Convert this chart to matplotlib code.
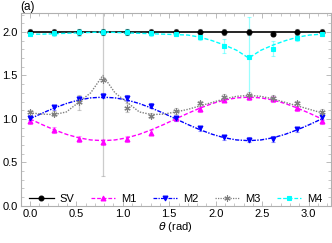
import numpy as np
import matplotlib
matplotlib.use('Agg')
import matplotlib.pyplot as plt
from matplotlib.ticker import MultipleLocator

# measured points at theta = k*pi/12
theta = np.linspace(0, np.pi, 13)
sv = [2.0, 2.0, 2.0, 2.0, 2.0, 2.0, 2.0, 2.0, 2.0, 2.0, 1.98, 2.0, 2.0]
sv_err = [0.03] * 13
m1 = [0.977, 0.873, 0.77, 0.735, 0.77, 0.84, 1.008, 1.11, 1.22, 1.25, 1.23, 1.12, 0.974]
m1_err = [0.03] * 13
m2 = [1.015, 1.135, 1.23, 1.265, 1.24, 1.15, 1.008, 0.89, 0.79, 0.76, 0.77, 0.88, 1.02]
m2_err = [0.03] * 13
m3 = [1.077, 1.058, 1.19, 1.45, 1.13, 1.035, 1.09, 1.18, 1.257, 1.277, 1.242, 1.18, 1.085]
m3_err = [0.03, 0.03, 0.09, 1.11, 0.05, 0.03, 0.03, 0.03, 0.03, 0.03, 0.03, 0.03, 0.03]
m4 = [1.98, 1.985, 1.995, 2.0, 2.0, 1.985, 1.98, 1.94, 1.84, 1.71, 1.81, 1.93, 1.98]
m4_err = [0.03, 0.03, 0.04, 0.03, 0.03, 0.03, 0.03, 0.03, 0.08, 0.46, 0.09, 0.03, 0.03]

# theory curves at theta = j*pi/24
theta_c = np.linspace(0, np.pi, 25)
sv_c = [2.0] * 25
m1_c = [1.0, 0.935, 0.875, 0.823, 0.783, 0.758, 0.75, 0.758, 0.783, 0.823, 0.875, 0.935,
        1.0, 1.065, 1.125, 1.177, 1.217, 1.242, 1.25, 1.242, 1.217, 1.177, 1.125, 1.065, 1.0]
m2_c = [1.0, 1.065, 1.125, 1.177, 1.217, 1.242, 1.25, 1.242, 1.217, 1.177, 1.125, 1.065,
        1.0, 0.935, 0.875, 0.823, 0.783, 0.758, 0.75, 0.758, 0.783, 0.823, 0.875, 0.935, 1.0]
m3_c = [1.07, 1.055, 1.05, 1.08, 1.19, 1.3, 1.5, 1.3, 1.19, 1.08, 1.05, 1.055,
        1.08, 1.11, 1.15, 1.19, 1.23, 1.26, 1.27, 1.26, 1.23, 1.19, 1.15, 1.11, 1.07]
m4_c = [1.975, 1.975, 1.98, 1.985, 1.99, 1.995, 2.0, 1.995, 1.99, 1.985, 1.98, 1.975,
        1.97, 1.965, 1.94, 1.9, 1.85, 1.79, 1.70, 1.79, 1.85, 1.9, 1.94, 1.965, 1.975]

series = [
    ("SV", sv, sv_err, sv_c, "black", "o", "-"),
    ("M1", m1, m1_err, m1_c, "#ff00ff", "^", (0, (3, 1.5))),
    ("M2", m2, m2_err, m2_c, "#0000ff", "v", (0, (3, 1, 1, 1))),
    ("M3", m3, m3_err, m3_c, "#808080", (6, 2, 0), (0, (1, 1))),
    ("M4", m4, m4_err, m4_c, "#00ffff", "s", (0, (3, 1.5))),
]

plt.rcParams['font.family'] = 'Liberation Sans'
fig = plt.figure(figsize=(3.32, 2.43), dpi=100)
ax = fig.add_axes([0.062, 0.153, 0.935, 0.794])

handles = []
for name, y, e, yc, col, mk, ls in series:
    size = 3.5 if name != "M3" else 4.5
    ax.errorbar(theta, y, yerr=e, fmt='none', ecolor=col, alpha=0.4,
                elinewidth=0.9, capsize=1.2, capthick=0.8, zorder=2)
    ax.plot(theta_c, yc, color=col, ls=ls, lw=1.0 if name != "SV" else 1.2, zorder=3)
    ax.plot(theta, y, ls='none', marker=mk, color=col, ms=size, mew=0.8, zorder=4)
    h, = ax.plot([], [], color=col, ls=ls, lw=0.9, marker=mk, ms=size, mew=0.8)
    handles.append(h)

ax.set_xlim(-0.1, np.pi + 0.1)
ax.set_ylim(0, 2.22)
ax.xaxis.set_major_locator(MultipleLocator(0.5))
ax.xaxis.set_minor_locator(MultipleLocator(0.1))
ax.yaxis.set_major_locator(MultipleLocator(0.5))
ax.yaxis.set_minor_locator(MultipleLocator(0.1))
ax.xaxis.set_major_formatter(plt.FuncFormatter(lambda v, p: f"{v:.1f}"))
ax.yaxis.set_major_formatter(plt.FuncFormatter(lambda v, p: f"{v:.1f}"))
ax.tick_params(which='both', direction='in', top=True, right=True, color='#b0b0b0',
               labelsize=8, pad=2)
ax.tick_params(which='major', length=3.5, width=0.6)
ax.tick_params(which='minor', length=2, width=0.5)
for s in ax.spines.values():
    s.set_color('#b0b0b0')
    s.set_linewidth(0.8)

ax.set_xlabel(r"$\theta$ (rad)", fontsize=8, labelpad=1)
fig.text(0.06, 0.995, "(a)", fontsize=8.5, va='top', ha='left')

ax.legend(handles, [s[0] for s in series], loc='lower center', ncol=5, frameon=False,
          fontsize=8, handlelength=2.2, columnspacing=1.45, handletextpad=0.55,
          borderaxespad=0.1, bbox_to_anchor=(0.5, -0.02))

fig.savefig("out.png", dpi=100)
